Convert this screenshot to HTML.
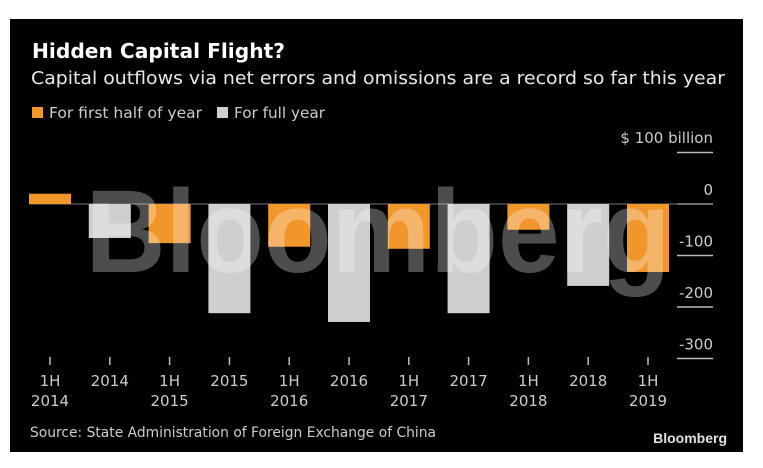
<!DOCTYPE html>
<html><head><meta charset="utf-8"><style>
body{margin:0;background:#fff;width:763px;height:468px;overflow:hidden}
svg{display:block;font-family:"DejaVu Sans","Liberation Sans",sans-serif}
</style></head><body>
<svg width="763" height="468">
<rect x="10" y="19" width="733" height="433" fill="#000"/>
<text x="32" y="58" fill="#fff" font-size="20" font-weight="bold" textLength="253" lengthAdjust="spacingAndGlyphs">Hidden Capital Flight?</text>
<text x="31" y="84" fill="#e8e8e8" font-size="18" textLength="694" lengthAdjust="spacingAndGlyphs">Capital outflows via net errors and omissions are a record so far this year</text>
<rect x="32" y="107" width="11" height="11" fill="#f0962a"/>
<text x="49" y="118" fill="#ccc" font-size="15" textLength="153" lengthAdjust="spacingAndGlyphs">For first half of year</text>
<rect x="217" y="107" width="11" height="11" fill="#cfcfcf"/>
<text x="234" y="118" fill="#ccc" font-size="15" textLength="91" lengthAdjust="spacingAndGlyphs">For full year</text>
<text x="713" y="143" fill="#ccc" font-size="15" text-anchor="end">$ 100 billion</text>
<g id="plot"></g>
<text x="30" y="437" fill="#ccc" font-size="14" textLength="406" lengthAdjust="spacingAndGlyphs">Source: State Administration of Foreign Exchange of China</text>
<text x="727" y="443" fill="#e0e0e0" font-size="14" font-weight="bold" text-anchor="end" font-family="Liberation Sans">Bloomberg</text>
</svg>
<script>
const categories=["1H|2014","2014","1H|2015","2015","1H|2016","2016","1H|2017","2017","1H|2018","2018","1H|2019"];
const seriesType=["half","full","half","full","half","full","half","full","half","full","half"];
const values=[20,-66,-76,-212,-83,-229,-87,-212,-50,-159,-132];
const yTicks=[100,0,-100,-200,-300];
const yTickLabels=["","0","-100","-200","-300"];
const NS="http://www.w3.org/2000/svg";
const g=document.getElementById('plot');
const y=v=>204-v*0.515;
const x=i=>50+i*59.8;
function mk(t,a){const e=document.createElementNS(NS,t);for(const k in a)e.setAttribute(k,a[k]);g.appendChild(e);return e;}
yTicks.forEach((t,i)=>{
 const l=mk('line',{x1:677,x2:713,y1:y(t),y2:y(t),stroke:'#bbb','stroke-width':1.5});
 
 
 if(yTickLabels[i]){const tx=mk('text',{x:713,y:y(t)-9,fill:'#ccc','font-size':15,'text-anchor':'end'});tx.textContent=yTickLabels[i];
 
 }
});
const z=mk('line',{x1:30,x2:713,y1:y(0),y2:y(0),stroke:'#777','stroke-width':1});


values.forEach((v,i)=>{
 const top=Math.min(y(v),y(0)),h=Math.abs(y(v)-y(0));
 const r=mk('rect',{x:x(i)-21,y:top,width:42,height:h,fill:seriesType[i]==='half'?'#f0962a':'#cfcfcf'});
 
 
 const tk=mk('line',{x1:x(i),x2:x(i),y1:357,y2:365,stroke:'#bbb','stroke-width':1.5});
 
 
 const parts=categories[i].split('|');
 parts.forEach((p,j)=>{const t=mk('text',{x:x(i),y:386+j*20,fill:'#ccc','font-size':15,'text-anchor':'middle'});t.textContent=p;
 
 });
});
const wm=mk('text',{x:378,y:272,fill:'#fff','fill-opacity':0.3,'font-size':118,'font-weight':'bold','font-family':'Liberation Sans','text-anchor':'middle',textLength:585,lengthAdjust:'spacingAndGlyphs'});
wm.textContent='Bloomberg';


</script>
</body></html>
